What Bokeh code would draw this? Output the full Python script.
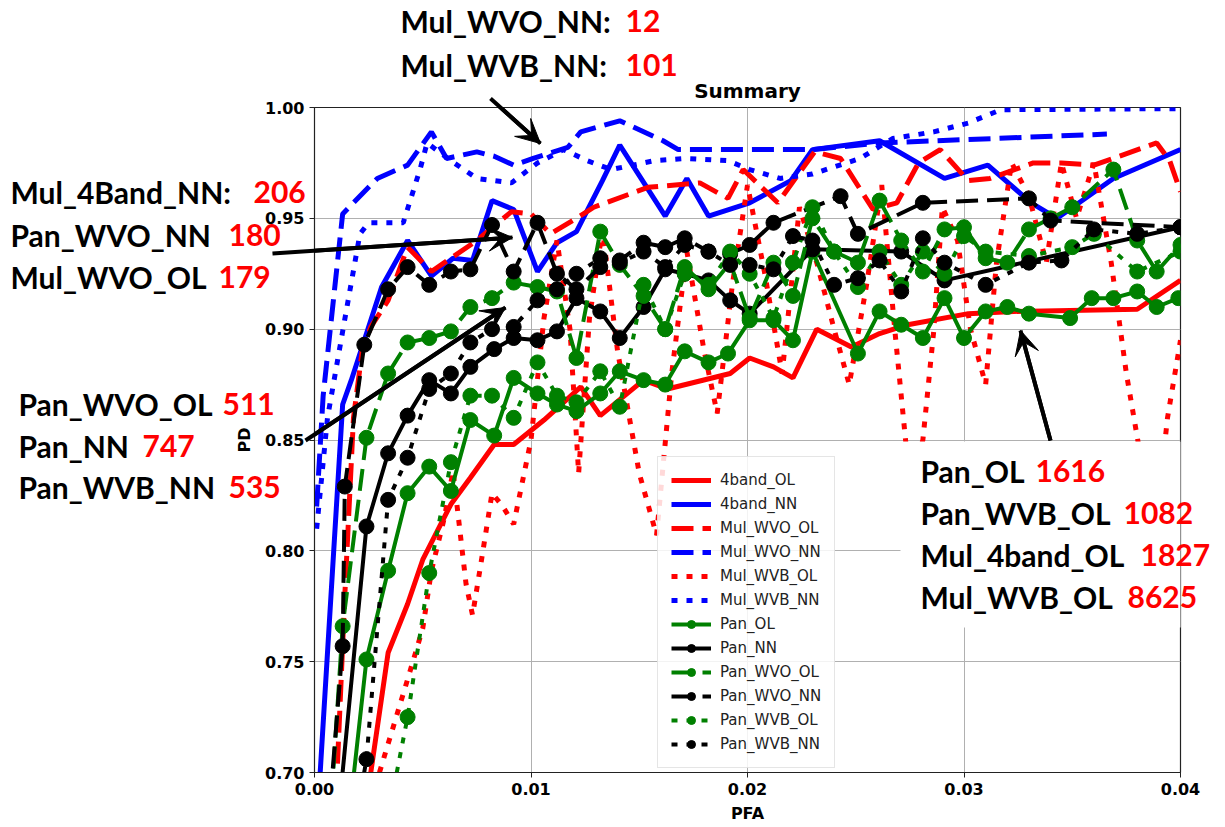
from bokeh.plotting import figure
from bokeh.models import (Range1d, FixedTicker, NumeralTickFormatter,
                          Arrow, VeeHead, BoxAnnotation, Legend)
from bokeh.core.properties import value
from bokeh.embed import file_html
from bokeh.resources import INLINE

# ---------------- data ----------------
four_ol_x = [0.0026,0.0034,0.0043,0.0050,0.0063,0.0072,0.0083,0.0092,0.0106,0.0123,0.0132,0.0152,0.0163,0.0192,0.0201,0.0212,0.0221,0.0232,0.0248,0.0261,0.0274,0.0302,0.0323,0.0380,0.0400]
four_ol_y = [0.700,0.754,0.776,0.796,0.821,0.833,0.848,0.848,0.859,0.874,0.861,0.877,0.873,0.880,0.887,0.883,0.878,0.900,0.892,0.898,0.902,0.907,0.908,0.909,0.922]

four_nn_x = [0.0002,0.0013,0.0017,0.0031,0.0043,0.0054,0.0064,0.0073,0.0082,0.0092,0.0103,0.0112,0.0121,0.0133,0.0141,0.0162,0.0172,0.0182,0.0201,0.0220,0.0230,0.0261,0.0291,0.0311,0.0331,0.0343,0.0369,0.0400]
four_nn_y = [0.690,0.866,0.877,0.919,0.940,0.924,0.932,0.931,0.958,0.954,0.926,0.939,0.944,0.967,0.983,0.951,0.968,0.951,0.957,0.967,0.981,0.985,0.968,0.974,0.957,0.950,0.968,0.981]

mul_wvo_ol_x = [0.0010,0.0014,0.0018,0.0022,0.0026,0.0034,0.0043,0.0054,0.0063,0.0075,0.0081,0.0091,0.0100,0.0109,0.0121,0.0129,0.0154,0.0178,0.0191,0.0198,0.0214,0.0231,0.0243,0.0258,0.0269,0.0279,0.0289,0.0302,0.0312,0.0332,0.0345,0.0360,0.0389,0.0395,0.0400]
mul_wvo_ol_y = [0.690,0.780,0.860,0.890,0.901,0.913,0.937,0.926,0.932,0.940,0.945,0.953,0.952,0.943,0.950,0.955,0.964,0.966,0.959,0.972,0.957,0.980,0.977,0.954,0.957,0.975,0.981,0.967,0.968,0.975,0.975,0.974,0.984,0.976,0.962]

mul_wvo_nn_x = [0.0001,0.0004,0.0013,0.0029,0.0043,0.0054,0.0061,0.0075,0.0083,0.0092,0.0101,0.0117,0.0123,0.0141,0.0161,0.0168,0.0201,0.0230,0.0261,0.0366]
mul_wvo_nn_y = [0.820,0.870,0.952,0.968,0.974,0.989,0.977,0.980,0.978,0.974,0.977,0.982,0.989,0.994,0.985,0.981,0.981,0.981,0.984,0.988]

mul_wvb_ol_x = [0.0030,0.0043,0.0050,0.0054,0.0060,0.0064,0.0070,0.0073,0.0077,0.0082,0.0087,0.0092,0.0100,0.0106,0.0112,0.0118,0.0122,0.0127,0.0133,0.0140,0.0150,0.0158,0.0165,0.0172,0.0180,0.0186,0.0193,0.0200,0.0208,0.0216,0.0224,0.0232,0.0240,0.0247,0.0255,0.0262,0.0268,0.0275,0.0281,0.0286,0.0290,0.0297,0.0303,0.0310,0.0315,0.0322,0.0330,0.0338,0.0345,0.0352,0.0360,0.0368,0.0375,0.0382,0.0389,0.0394,0.0400]
mul_wvb_ol_y = [0.700,0.742,0.765,0.791,0.815,0.836,0.785,0.771,0.795,0.826,0.820,0.812,0.850,0.905,0.940,0.900,0.835,0.905,0.945,0.890,0.835,0.807,0.880,0.935,0.890,0.862,0.920,0.965,0.925,0.880,0.955,0.930,0.900,0.875,0.920,0.965,0.900,0.830,0.850,0.899,0.955,0.940,0.900,0.875,0.930,0.975,0.960,0.930,0.975,0.950,0.975,0.930,0.880,0.840,0.815,0.860,0.895]

mul_wvb_nn_x = [0.0001,0.0006,0.0013,0.0021,0.0025,0.0041,0.0049,0.0052,0.0063,0.0075,0.0091,0.0103,0.0115,0.0126,0.0137,0.0157,0.0171,0.0191,0.0201,0.0215,0.0230,0.0252,0.0267,0.0286,0.0302,0.0317,0.0400]
mul_wvb_nn_y = [0.810,0.860,0.899,0.943,0.948,0.948,0.973,0.984,0.976,0.968,0.966,0.975,0.981,0.976,0.972,0.976,0.977,0.976,0.972,0.968,0.970,0.977,0.986,0.989,0.993,0.999,0.9995]

pan_ol_x = [0.0016,0.0024,0.0034,0.0043,0.0053,0.0063,0.0072,0.0083,0.0092,0.0103,0.0112,0.0121,0.0132,0.0141,0.0152,0.0162,0.0171,0.0182,0.0191,0.0201,0.0212,0.0221,0.0230,0.0251,0.0261,0.0271,0.0281,0.0291,0.0300,0.0310,0.0320,0.0330,0.0349,0.0359,0.0369,0.0380,0.0389,0.0399]
pan_ol_y = [0.680,0.751,0.791,0.826,0.838,0.827,0.859,0.852,0.878,0.871,0.866,0.863,0.871,0.881,0.877,0.875,0.890,0.885,0.889,0.904,0.904,0.895,0.935,0.889,0.908,0.902,0.896,0.914,0.896,0.908,0.910,0.907,0.905,0.914,0.914,0.917,0.910,0.914]

pan_nn_x = [0.0009,0.0024,0.0034,0.0043,0.0053,0.0063,0.0072,0.0083,0.0092,0.0103,0.0112,0.0121,0.0132,0.0141,0.0152,0.0162,0.0171,0.0182,0.0192,0.0201,0.0230,0.0271,0.0291,0.0400]
pan_nn_y = [0.660,0.811,0.844,0.861,0.877,0.871,0.883,0.891,0.896,0.895,0.899,0.914,0.908,0.896,0.910,0.927,0.925,0.922,0.913,0.907,0.936,0.935,0.922,0.946]

pan_wvo_ol_x = [0.0006,0.0013,0.0024,0.0034,0.0043,0.0053,0.0063,0.0072,0.0082,0.0092,0.0103,0.0112,0.0121,0.0132,0.0141,0.0152,0.0162,0.0171,0.0182,0.0192,0.0201,0.0212,0.0221,0.0230,0.0240,0.0251,0.0261,0.0271,0.0281,0.0291,0.0300,0.0310,0.0320,0.0330,0.0340,0.0350,0.0369,0.0380,0.0389,0.0400]
pan_wvo_ol_y = [0.660,0.766,0.851,0.880,0.894,0.896,0.899,0.910,0.914,0.921,0.919,0.917,0.887,0.944,0.929,0.915,0.900,0.928,0.918,0.930,0.905,0.930,0.915,0.950,0.935,0.930,0.958,0.940,0.926,0.945,0.946,0.932,0.930,0.945,0.950,0.955,0.972,0.940,0.926,0.938]

pan_wvo_nn_x = [0.0005,0.0013,0.0014,0.0023,0.0034,0.0043,0.0053,0.0063,0.0072,0.0082,0.0092,0.0103,0.0112,0.0121,0.0132,0.0141,0.0152,0.0162,0.0171,0.0182,0.0192,0.0201,0.0212,0.0243,0.0251,0.0281,0.0330,0.0340,0.0400]
pan_wvo_nn_y = [0.660,0.757,0.829,0.893,0.918,0.928,0.920,0.926,0.927,0.947,0.926,0.948,0.925,0.918,0.928,0.931,0.939,0.937,0.941,0.935,0.934,0.938,0.948,0.960,0.943,0.957,0.959,0.949,0.946]

pan_wvb_ol_x = [0.0030,0.0043,0.0053,0.0063,0.0072,0.0082,0.0092,0.0103,0.0112,0.0121,0.0132,0.0141,0.0152,0.0162,0.0171,0.0182,0.0192,0.0201,0.0212,0.0221,0.0230,0.0240,0.0251,0.0261,0.0271,0.0281,0.0291,0.0300,0.0310,0.0330,0.0350,0.0360,0.0380,0.0400]
pan_wvb_ol_y = [0.660,0.725,0.790,0.840,0.870,0.870,0.860,0.885,0.870,0.867,0.881,0.865,0.920,0.900,0.925,0.920,0.935,0.925,0.905,0.930,0.955,0.935,0.919,0.935,0.920,0.935,0.925,0.942,0.935,0.933,0.937,0.943,0.926,0.935]

pan_wvb_nn_x = [0.0016,0.0024,0.0034,0.0043,0.0053,0.0063,0.0072,0.0082,0.0092,0.0103,0.0112,0.0121,0.0132,0.0141,0.0152,0.0162,0.0171,0.0182,0.0192,0.0201,0.0212,0.0221,0.0230,0.0240,0.0251,0.0261,0.0271,0.0281,0.0291,0.0310,0.0330,0.0345,0.0360,0.0380,0.0400]
pan_wvb_nn_y = [0.660,0.706,0.823,0.842,0.873,0.880,0.894,0.900,0.901,0.913,0.918,0.925,0.932,0.930,0.935,0.928,0.938,0.935,0.929,0.929,0.927,0.942,0.940,0.920,0.923,0.931,0.917,0.941,0.930,0.920,0.930,0.931,0.945,0.943,0.946]

x_ticks = [0.00, 0.01, 0.02, 0.03, 0.04]
y_ticks = [0.70, 0.75, 0.80, 0.85, 0.90, 0.95, 1.00]

# annotation texts: (black part, red part)
top_notes = [("Mul_WVO_NN:", "12"), ("Mul_WVB_NN:", "101")]
left_top_notes = [("Mul_4Band_NN:", "206"), ("Pan_WVO_NN", "180"), ("Mul_WVO_OL", "179")]
left_bot_notes = [("Pan_WVO_OL", "511"), ("Pan_NN", "747"), ("Pan_WVB_NN", "535")]
right_notes = [("Pan_OL", "1616"), ("Pan_WVB_OL", "1082"), ("Mul_4band_OL", "1827"), ("Mul_WVB_OL", "8625")]

# ---------------- figure ----------------
W, H = 1225, 827
FL, FR, FT, FB = 314, 1180, 107, 772
p = figure(width=W, height=H, output_backend="svg", toolbar_location=None,
           x_range=Range1d(0, 0.04), y_range=Range1d(0.70, 1.00),
           min_border_left=FL, min_border_right=W - FR,
           min_border_top=FT, min_border_bottom=H - FB)
p.background_fill_color = "white"
p.border_fill_color = "white"
p.outline_line_color = "#222222"
p.outline_line_width = 1.2

def fx(px):
    return (px - FL) / (FR - FL) * 0.04

def fy(py):
    return 0.70 + (FB - py) / (FB - FT) * 0.30

p.title.text = "Summary"
p.title.align = "center"
p.title.text_font = "DejaVu Sans"
p.title.text_font_size = "20px"
p.title.text_font_style = "bold"
p.title.text_color = "black"
p.title.standoff = 9

p.xaxis.ticker = FixedTicker(ticks=x_ticks)
p.yaxis.ticker = FixedTicker(ticks=y_ticks)
p.xaxis.formatter = NumeralTickFormatter(format="0.00")
p.yaxis.formatter = NumeralTickFormatter(format="0.00")
for ax in (p.xaxis[0], p.yaxis[0]):
    ax.major_label_text_font = "DejaVu Sans"
    ax.major_label_text_font_size = "16px"
    ax.major_label_text_font_style = "bold"
    ax.major_label_text_color = "black"
    ax.axis_label_text_font = "DejaVu Sans"
    ax.axis_label_text_font_size = "16px"
    ax.axis_label_text_font_style = "bold"
    ax.axis_label_text_color = "black"
    ax.major_tick_in = 0
    ax.major_tick_out = 5
    ax.minor_tick_out = 0
    ax.minor_tick_in = 0
    ax.axis_line_color = "#222222"
    ax.major_tick_line_color = "#222222"
p.xaxis.axis_label = "PFA"
p.yaxis.axis_label = "PD"
p.xaxis.axis_label_standoff = 6
p.yaxis.axis_label_standoff = 8
p.xgrid.ticker = FixedTicker(ticks=x_ticks)
p.ygrid.ticker = FixedTicker(ticks=y_ticks)
p.grid.grid_line_color = "#b0b0b0"
p.grid.grid_line_width = 1

LW = 5
DASH = "22 9"
DOT = "6 9"
series = [
    ("4band_OL", four_ol_x, four_ol_y, "red", "solid", False),
    ("4band_NN", four_nn_x, four_nn_y, "blue", "solid", False),
    ("Mul_WVO_OL", mul_wvo_ol_x, mul_wvo_ol_y, "red", DASH, False),
    ("Mul_WVO_NN", mul_wvo_nn_x, mul_wvo_nn_y, "blue", DASH, False),
    ("Mul_WVB_OL", mul_wvb_ol_x, mul_wvb_ol_y, "red", DOT, False),
    ("Mul_WVB_NN", mul_wvb_nn_x, mul_wvb_nn_y, "blue", DOT, False),
    ("Pan_OL", pan_ol_x, pan_ol_y, "green", "solid", True),
    ("Pan_NN", pan_nn_x, pan_nn_y, "black", "solid", True),
    ("Pan_WVO_OL", pan_wvo_ol_x, pan_wvo_ol_y, "green", DASH, True),
    ("Pan_WVO_NN", pan_wvo_nn_x, pan_wvo_nn_y, "black", DASH, True),
    ("Pan_WVB_OL", pan_wvb_ol_x, pan_wvb_ol_y, "green", DOT, True),
    ("Pan_WVB_NN", pan_wvb_nn_x, pan_wvb_nn_y, "black", DOT, True),
]
items = []
for name, xs, ys, col, dash, mk in series:
    rs = []
    rs.append(p.line(xs, ys, line_color=col, line_width=(4 if mk else LW), line_dash=dash))
    if mk:
        rs.append(p.scatter(xs, ys, size=15, fill_color=col, line_color=col, marker="circle"))
    items.append((name, rs))

legend = Legend(items=items, location=(343, 4))
legend.label_text_font = "DejaVu Sans"
legend.label_text_font_size = "15px"
legend.label_text_color = "#222222"
legend.glyph_width = 40
legend.glyph_height = 20
legend.label_height = 20
legend.spacing = 4
legend.padding = 13
legend.margin = 0
legend.label_standoff = 9
legend.border_line_color = "#cccccc"
legend.border_line_width = 1
legend.background_fill_alpha = 0.85
p.add_layout(legend, "center")

# white box on the right (covers part of the plot)
p.add_layout(BoxAnnotation(left=fx(900), right=fx(1225), bottom=fy(627), top=fy(441),
                           fill_color="white", fill_alpha=1.0, line_color=None))

# ---- annotation texts (glyphs on the overlay level, so not clipped to the frame) ----
FONT = "Lato"
FS = "30px"
note_pos = [  # (black x, red x, baseline y) in pixels
    (400, 625, 20), (400, 625, 64),
    (10, 253, 191), (10, 228, 234), (10, 218, 276),
    (18, 222, 403), (18, 142, 445), (18, 228, 486),
    (920, 1035, 470), (920, 1123, 512), (920, 1140, 554), (920, 1127, 596),
]
all_notes = top_notes + left_top_notes + left_bot_notes + right_notes
bx = [fx(a) for a, b, c in note_pos]
rx = [fx(b) for a, b, c in note_pos]
ty = [fy(c) for a, b, c in note_pos]
p.text(x=bx, y=ty, text=[n[0] for n in all_notes], text_color="black",
       text_font=value(FONT), text_font_size=value(FS), text_font_style="bold",
       text_baseline="alphabetic", text_align="left", level="overlay")
p.text(x=rx, y=ty, text=[n[1] for n in all_notes], text_color="red",
       text_font=value(FONT), text_font_size=value(FS), text_font_style="bold",
       text_baseline="alphabetic", text_align="left", level="overlay")

# ---- arrows ----
arrows_px = [(490, 98, 540, 143), (272, 253, 512, 237), (305, 440, 505, 307), (1050, 440, 1020, 330)]
p.segment(x0=[fx(a[0]) for a in arrows_px], y0=[fy(a[1]) for a in arrows_px],
          x1=[fx(a[2]) for a in arrows_px], y1=[fy(a[3]) for a in arrows_px],
          line_color="black", line_width=4, level="overlay")
for a in arrows_px:
    p.add_layout(Arrow(end=VeeHead(size=24, fill_color="black", line_color="black", line_width=1),
                       x_start=fx(a[0]), y_start=fy(a[1]), x_end=fx(a[2]), y_end=fy(a[3]),
                       line_color="black", line_width=4))

open("out.html", "w").write(file_html(p, INLINE))
